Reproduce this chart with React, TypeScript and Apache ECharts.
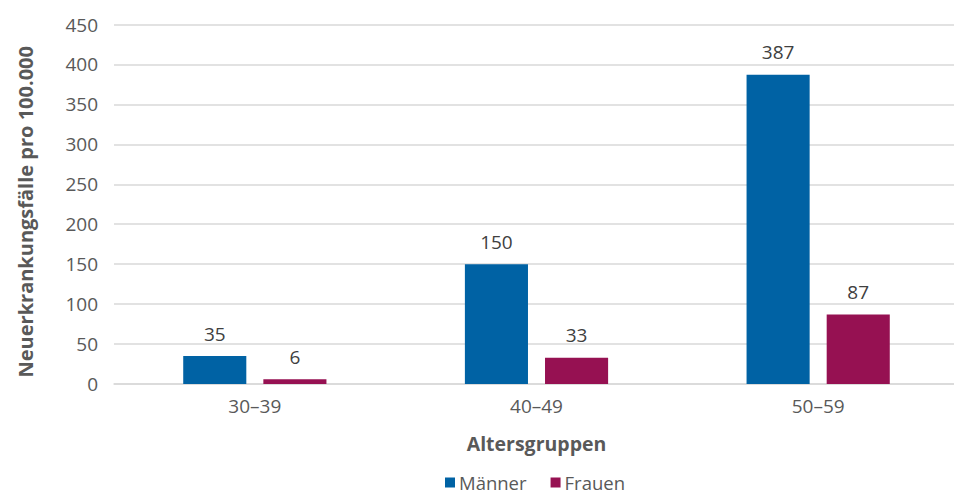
import React, { useEffect, useRef } from "react";
import * as echarts from "echarts";

const categories = ["30–39", "40–49", "50–59"];
const maenner = [35, 150, 387];
const frauen = [6, 33, 87];
const seriesNames = ["Männer", "Frauen"];

const FONT = "'Open Sans', Lato, sans-serif";
const TXT = "#595959";

export default function App() {
  const ref = useRef<HTMLDivElement>(null);
  useEffect(() => {
    if (!ref.current) return;
    const chart = echarts.init(ref.current, undefined, { renderer: "svg" });
    chart.setOption({
      animation: false,
      textStyle: { fontFamily: FONT },
      grid: { left: 114, width: 845, top: 24.5, bottom: 112, containLabel: false, outerBoundsMode: "none" },
      legend: {
        data: seriesNames,
        top: 473,
        left: 445,
        padding: 0,
        itemWidth: 10,
        itemHeight: 10,
        itemGap: 24,
        icon: "rect",
        textStyle: { color: TXT, fontSize: 18.5, lineHeight: 18, fontFamily: FONT, padding: [0, 0, 0, -1] },
      },
      xAxis: {
        type: "category",
        data: categories,
        name: "Altersgruppen",
        nameLocation: "middle",
        nameGap: 49,
        nameTextStyle: { color: TXT, fontSize: 19.5, fontWeight: "bold", fontFamily: FONT },
        axisLine: { lineStyle: { color: "#d9d9d9", width: 1.5 } },
        axisTick: { show: false },
        axisLabel: { color: TXT, fontSize: 19, margin: 12, fontFamily: FONT },
      },
      yAxis: {
        type: "value",
        min: 0,
        max: 450,
        interval: 50,
        name: "Neuerkrankungsfälle pro 100.000",
        nameLocation: "middle",
        nameGap: 79,
        nameTextStyle: { color: TXT, fontSize: 20, fontWeight: "bold", fontFamily: FONT, padding: [0, 15, 0, 0] },
        axisLine: { show: false },
        axisTick: { show: false },
        axisLabel: { color: TXT, fontSize: 19, margin: 16, fontFamily: FONT },
        splitLine: { lineStyle: { color: "#d9d9d9", width: 1.5 } },
      },
      series: [
        {
          name: seriesNames[0],
          type: "bar",
          data: maenner,
          barWidth: "22.4%",
          barGap: "27%",
          itemStyle: { color: "#0062A4" },
          label: { show: true, position: "top", distance: 13, color: "#404040", fontSize: 19, fontFamily: FONT },
        },
        {
          name: seriesNames[1],
          type: "bar",
          data: frauen,
          barWidth: "22.4%",
          barGap: "27%",
          itemStyle: { color: "#961152" },
          label: { show: true, position: "top", distance: 13, color: "#404040", fontSize: 19, fontFamily: FONT },
        },
      ],
    });
    return () => chart.dispose();
  }, []);
  return <div ref={ref} style={{ position: "absolute", left: 0, top: 0, width: 954, height: 496 }} />;
}
